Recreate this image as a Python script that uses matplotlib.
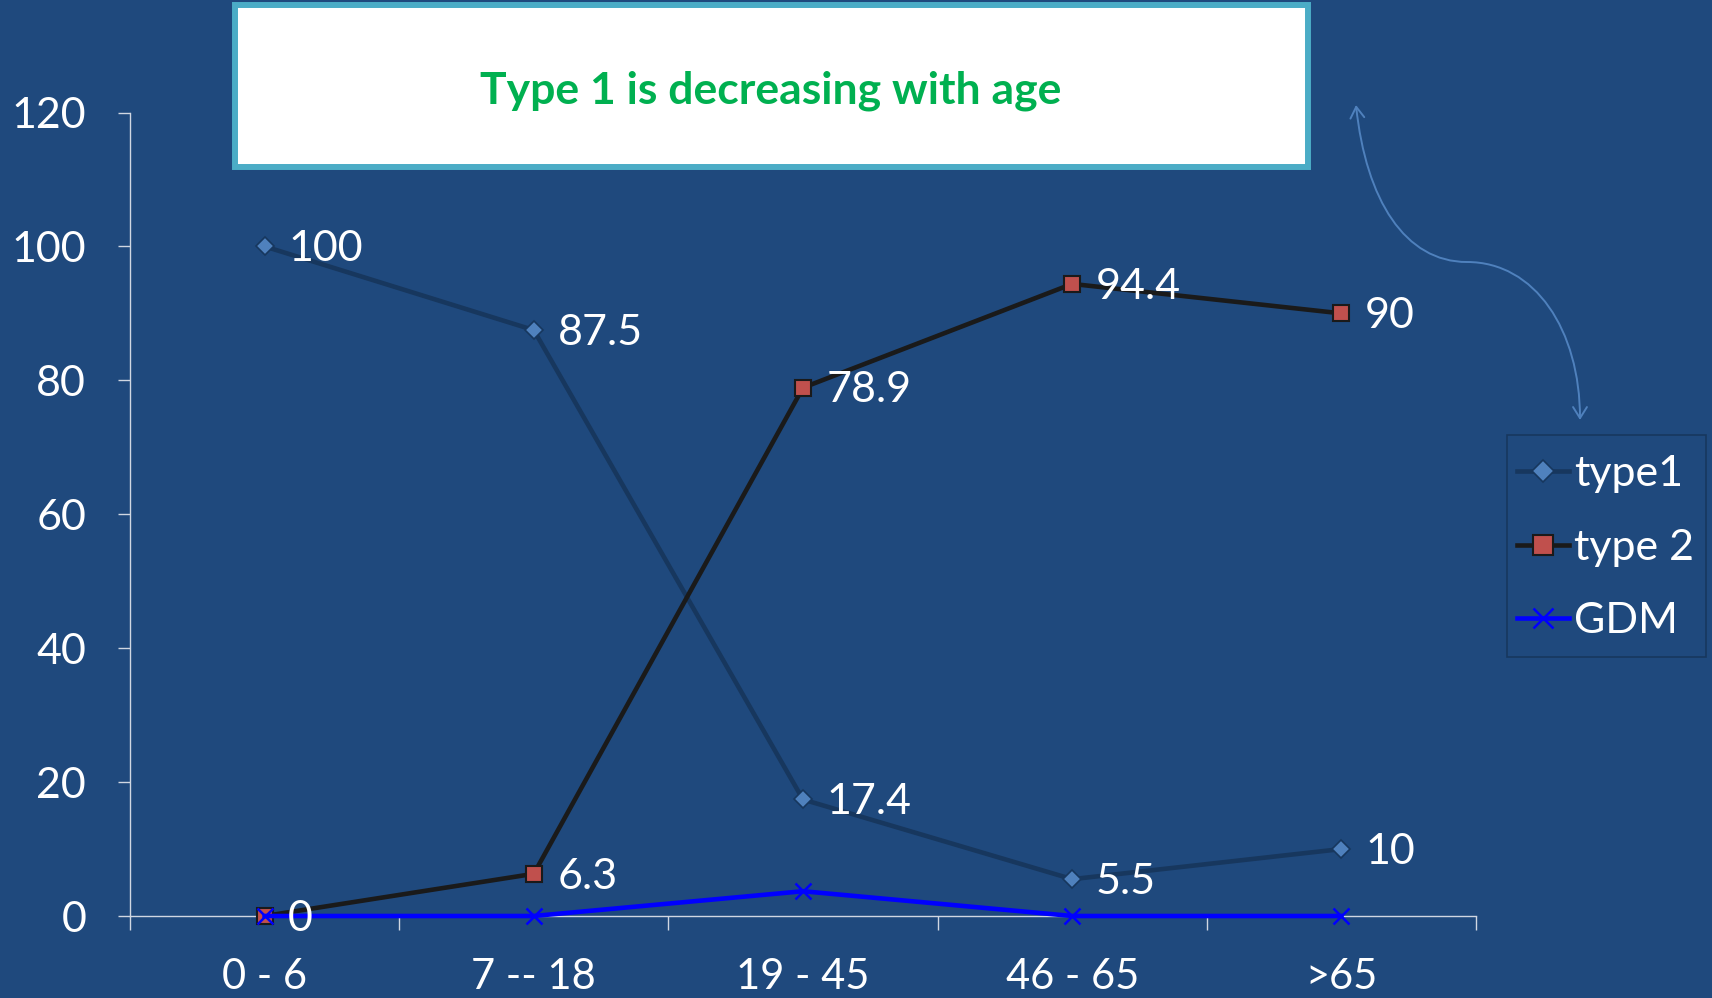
import matplotlib
matplotlib.use("Agg")
import matplotlib.pyplot as plt
from matplotlib.patches import Rectangle, FancyArrowPatch
from matplotlib.path import Path
from matplotlib.ticker import FixedLocator

# ---- data ----
age_groups = ["0 - 6", "7 -- 18", "19 - 45", "46 - 65", ">65"]
type1 = [100, 87.5, 17.4, 5.5, 10]
type2 = [0, 6.3, 78.9, 94.4, 90]
gdm = [0, 0, 3.7, 0, 0]
type1_labels = ["100", "87.5", "17.4", "5.5", "10"]
type2_labels = ["0", "6.3", "78.9", "94.4", "90"]
y_ticks = [0, 20, 40, 60, 80, 100, 120]
headline = "Type 1 is decreasing with age"

BG = "#1F497D"
FONT = "Lato"
W, H = 1712, 998

fig = plt.figure(figsize=(W / 100, H / 100), dpi=100, facecolor=BG)
ax = fig.add_axes([130 / W, 1 - 916 / H, (1476 - 130) / W, (916 - 112.5) / H])
ax.set_facecolor(BG)

x = list(range(len(age_groups)))

ax.plot(x, type1, color="#17375E", lw=3.3, marker="D", markersize=9,
        markerfacecolor="#4F81BD", markeredgecolor="#17375E", markeredgewidth=1.2,
        label="type1", clip_on=False, zorder=3)
ax.plot(x, type2, color="#1A1A1A", lw=3.3, marker="s", markersize=12,
        markerfacecolor="#C0504D", markeredgecolor="#1A1A1A", markeredgewidth=1.5,
        label="type 2", clip_on=False, zorder=4)
ax.plot(x, gdm, color="#0000FF", lw=3.3, marker="x", markersize=12,
        markeredgewidth=1.8, markeredgecolor="#0000FF",
        label="GDM", clip_on=False, zorder=5)

LABEL_SIZE = 31
for xi, v, t in zip(x, type1, type1_labels):
    ax.annotate(t, (xi, v), xytext=(17, -2), textcoords="offset points",
                color="white", fontsize=LABEL_SIZE, family=FONT, va="center",
                ha="left", zorder=6, annotation_clip=False)
for xi, v, t in zip(x, type2, type2_labels):
    ax.annotate(t, (xi, v), xytext=(17, -2), textcoords="offset points",
                color="white", fontsize=LABEL_SIZE, family=FONT, va="center",
                ha="left", zorder=6, annotation_clip=False)

ax.set_xlim(-0.5, len(age_groups) - 0.5)
ax.set_ylim(0, 120)
ax.set_yticks(y_ticks)
ax.set_yticklabels([str(t) for t in y_ticks])
ax.set_xticks(x)
ax.set_xticklabels(age_groups)
ax.xaxis.set_minor_locator(FixedLocator([i - 0.5 for i in range(len(age_groups) + 1)]))

axis_col = "#D0D7E2"
for side in ("top", "right"):
    ax.spines[side].set_visible(False)
for side in ("left", "bottom"):
    ax.spines[side].set_color(axis_col)
    ax.spines[side].set_linewidth(1.0)

ax.tick_params(axis="y", direction="out", length=8.5, width=1.0, color=axis_col,
               labelcolor="white", labelsize=31, pad=23)
ax.tick_params(axis="x", which="major", length=0, labelcolor="white",
               labelsize=30, pad=30)
ax.tick_params(axis="x", which="minor", direction="out", length=10, width=1.0,
               color=axis_col)
for lbl in ax.get_xticklabels() + ax.get_yticklabels():
    lbl.set_family(FONT)

# legend frame drawn separately, entries placed inside it
legend_box = Rectangle((1507 / W, 1 - 657 / H), (1706 - 1507) / W, (657 - 434.5) / H,
                       transform=fig.transFigure, facecolor=BG, edgecolor="#17375E",
                       linewidth=1.2, zorder=2)
fig.add_artist(legend_box)
leg = fig.legend(loc="upper left", bbox_to_anchor=(1517 / W, 1 - 455 / H),
                 prop={"family": FONT, "size": 31}, frameon=False,
                 handlelength=1.2, handletextpad=0.12, labelspacing=0.83,
                 borderpad=0, borderaxespad=0, markerscale=1.25)
leg.set_zorder(3)
for t in leg.get_texts():
    t.set_color("white")

# headline box
box = Rectangle((235 / W, 1 - 167 / H), (1308 - 235) / W, (167 - 5.5) / H,
                transform=fig.transFigure, facecolor="white", edgecolor="#4BACC6",
                linewidth=4.3, zorder=10)
fig.add_artist(box)
fig.text(771 / W, 1 - 91 / H, headline, color="#00B050", fontsize=32,
         fontweight="bold", family=FONT, ha="center", va="center", zorder=11)

# curved double-headed arrow
def fp(px, py):
    return (px / W, 1 - py / H)

verts = [fp(1356, 105), fp(1366, 200), fp(1405, 262), fp(1467, 262),
         fp(1535, 262), fp(1580, 330), fp(1580, 420)]
codes = [Path.MOVETO, Path.CURVE4, Path.CURVE4, Path.CURVE4,
         Path.CURVE4, Path.CURVE4, Path.CURVE4]
arrow = FancyArrowPatch(path=Path(verts, codes), transform=fig.transFigure,
                        arrowstyle="<->,head_length=8,head_width=5",
                        color="#4F81BD", lw=1.4, zorder=9)
fig.add_artist(arrow)

fig.savefig("out.png", dpi=100, facecolor=BG)
